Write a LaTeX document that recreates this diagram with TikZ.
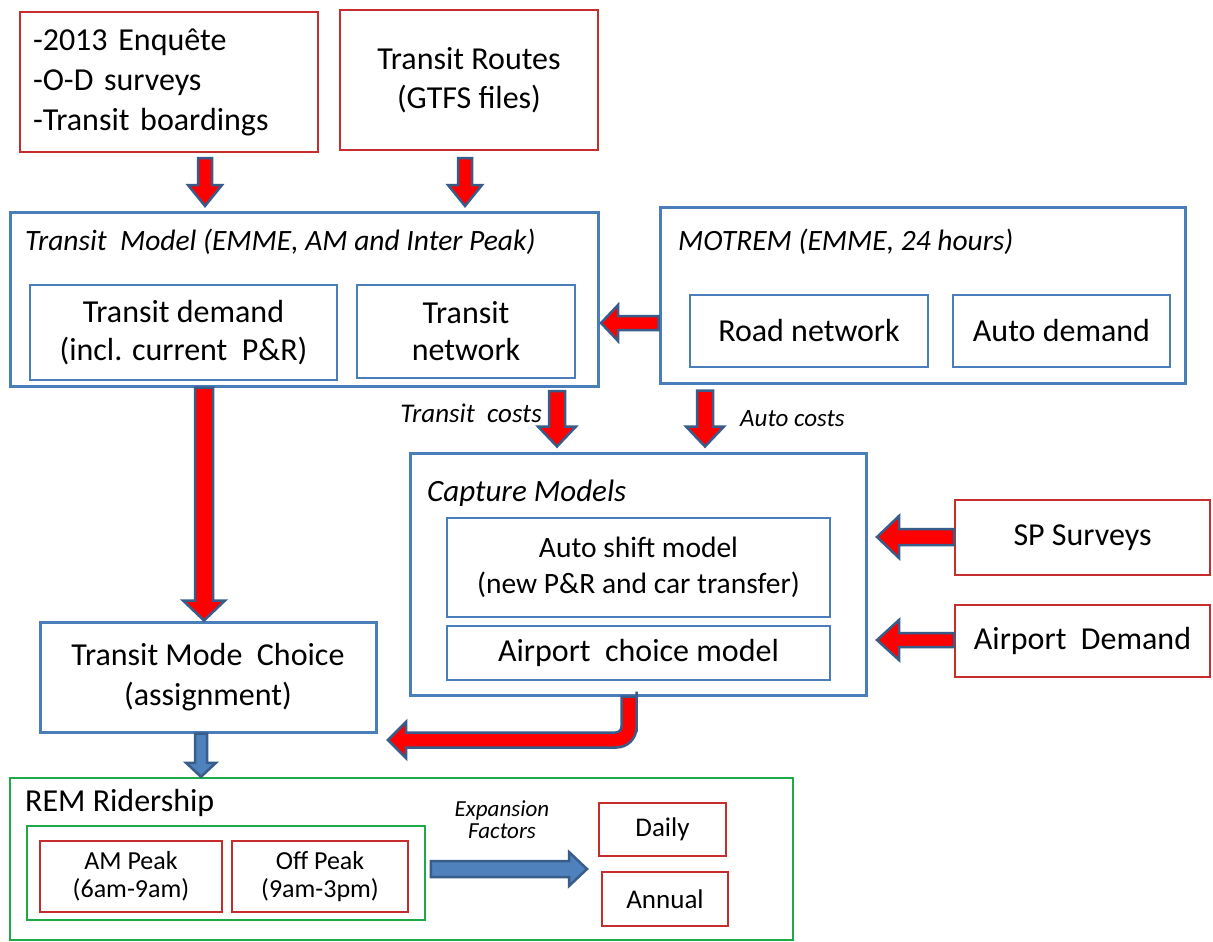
\documentclass[tikz,border=0pt]{standalone}
\usepackage{fontspec}
\setmainfont{Carlito}
\usetikzlibrary{calc}
\definecolor{redline}{RGB}{200,45,45}
\definecolor{blueline}{RGB}{74,126,187}
\definecolor{arrowline}{RGB}{56,93,138}
\definecolor{arrowred}{RGB}{255,0,0}
\definecolor{arrowblue}{RGB}{79,129,189}
\definecolor{greenline}{RGB}{30,170,70}
\newcommand{\fs}[2]{\fontsize{#1}{#2}\selectfont}
\begin{document}
\begin{tikzpicture}[x=1pt,y=-1pt,
  box/.style={inner sep=0pt, align=center},
  redbox/.style={box, draw=redline, line width=2pt},
  outerblue/.style={box, draw=blueline, line width=3pt},
  innerblue/.style={box, draw=blueline, line width=1.5pt},
  greenbox/.style={box, draw=greenline, line width=2.5pt},
  innergreen/.style={box, draw=greenline, line width=1.5pt},
  smallred/.style={box, draw=redline, line width=2pt},
  title/.style={inner sep=0pt, anchor=west, font=\itshape\fs{29.5}{35}},
  blockarrow/.style n args={3}{draw=arrowline, line width=2.5pt, line join=miter, fill=arrowred,
    to path={
      let \p1=(\tikztostart), \p2=(\tikztotarget),
          \n1={atan2(\y2-\y1,\x2-\x1)},
          \n2={veclen(\x2-\x1,\y2-\y1)-#3}
      in ($(\p1)+(\n1+90:#1)$) -- ($(\p1)+(\n1:\n2)+(\n1+90:#1)$)
         -- ($(\p1)+(\n1:\n2)+(\n1+90:#2)$) -- (\p2)
         -- ($(\p1)+(\n1:\n2)+(\n1-90:#2)$) -- ($(\p1)+(\n1:\n2)+(\n1-90:#1)$)
         -- ($(\p1)+(\n1-90:#1)$) -- cycle}},
  bluearrow/.style n args={3}{blockarrow={#1}{#2}{#3}, fill=arrowblue}
]
\useasboundingbox (0,0) rectangle (1213,942);

% top input boxes
\node[redbox, minimum width=298, minimum height=140, text width=272, align=left,
      font=\fs{32}{40}] (A) at (169,82)
  {-2013 Enquête\\-O-D surveys\\-Transit boardings};
\node[redbox, minimum width=258, minimum height=140, font=\fs{32}{39}] (B) at (469,80)
  {Transit Routes\\(GTFS files)};

% transit model
\node[outerblue, minimum width=588, minimum height=174] (TM) at (304,299) {};
\node[title] (TMt) at (25,242) {Transit\ \ Model (EMME, AM and Inter Peak)};
\node[innerblue, minimum width=307, minimum height=95, font=\fs{32}{38}] (TD) at (183.5,332.5)
  {Transit demand\\(incl. current\ \ P\&R)};
\node[innerblue, minimum width=218, minimum height=93, font=\fs{32}{37}] (TN) at (466,331.5)
  {Transit\\network};

% MOTREM
\node[outerblue, minimum width=525, minimum height=176] (MO) at (922.5,295) {};
\node[title] (MOt) at (678,242) {MOTREM (EMME, 24 hours)};
\node[innerblue, minimum width=238, minimum height=72, font=\fs{32}{38}] (RN) at (809,331) {Road network};
\node[innerblue, minimum width=217, minimum height=72, font=\fs{32}{38}] (AD) at (1061.5,331) {Auto demand};

% capture models
\node[outerblue, minimum width=456, minimum height=242] (CM) at (638,574) {};
\node[title, font=\itshape\fs{31}{36}] (CMt) at (427,493) {Capture Models};
\node[innerblue, minimum width=383, minimum height=99, font=\fs{29.5}{36}] (AS) at (638.5,567.5)
  {Auto shift model\\(new P\&R and car transfer)};
\node[innerblue, minimum width=383, minimum height=54, font=\fs{32}{38}] (AC) at (638.5,653)
  {Airport\ \ choice model};

% right inputs
\node[redbox, minimum width=255, minimum height=75, font=\fs{32}{38}] (SP) at (1082.5,537.5) {SP Surveys};
\node[redbox, minimum width=255, minimum height=72, font=\fs{32}{38}] (AP) at (1082.5,641) {Airport\ \ Demand};

% transit mode choice
\node[outerblue, minimum width=336, minimum height=110, font=\fs{32}{40}] (TMC) at (208,677)
  {Transit Mode\ \ Choice\\(assignment)};

% REM ridership
\node[greenbox, minimum width=783, minimum height=162] (REM) at (401.5,859) {};
\node[inner sep=0pt, anchor=west, font=\fs{32}{38}] (REMt) at (25,803) {REM Ridership};
\node[innergreen, minimum width=398, minimum height=94] (IG) at (226,873) {};
\node[smallred, minimum width=182, minimum height=71, font=\fs{26}{28}] (AM) at (131,876.5)
  {AM Peak\\(6am-9am)};
\node[smallred, minimum width=176, minimum height=71, font=\fs{26}{28}] (OP) at (320,876.5)
  {Off Peak\\(9am-3pm)};
\node[smallred, minimum width=127, minimum height=53, font=\fs{27}{32}] (DA) at (662.5,829) {Daily};
\node[smallred, minimum width=126, minimum height=54, font=\fs{27}{32}] (AN) at (665,899) {Annual};
\node[inner sep=0pt, align=center, font=\itshape\fs{23}{22}] (EF) at (502,820) {Expansion\\Factors};

% labels of costs
\node[inner sep=0pt, anchor=east, font=\itshape\fs{27}{30}] (TCl) at (542,413) {Transit\ \ costs};
\node[inner sep=0pt, anchor=west, font=\itshape\fs{25}{30}] (ACl) at (740,419) {Auto costs};

% arrow end coordinates
\coordinate (a1s) at ($(A.south)+(36,5)$);
\coordinate (a1e) at (a1s |- 0,206);
\coordinate (a2s) at ($(B.south)+(-4,7)$);
\coordinate (a2e) at (a2s |- 0,206);
\coordinate (a3s) at (MO.west |- 0,323);
\coordinate (a3e) at (601,323);
\coordinate (a4s) at (TM.south -| 204,0);
\coordinate (a4e) at (TMC.north -| 204,0);
\coordinate (a5s) at (557,391);
\coordinate (a5e) at (CM.north -| a5s);
\coordinate (a6s) at (MO.south -| 705,0);
\coordinate (a6e) at (CM.north -| a6s);
\coordinate (a7s) at (SP.west |- 0,537);
\coordinate (a7e) at (877,537);
\coordinate (a8s) at (AP.west |- 0,640);
\coordinate (a8e) at (877,640);
\coordinate (a9s) at (TMC.south -| 201,0);
\coordinate (a9e) at (REM.north -| 201,0);
\coordinate (a10s) at (IG.east |- 0,869);
\coordinate (a10e) at (587,869);

\path[blockarrow={7pt}{17pt}{21pt}] ($(a1s)$) to ($(a1e)$);
\path[blockarrow={7pt}{17pt}{21pt}] (a2s) to (a2e);
\path[blockarrow={7pt}{18pt}{17pt}] (a3s) to (a3e);
\path[blockarrow={9pt}{21pt}{20pt}] (a4s) to (a4e);
\path[blockarrow={8pt}{19pt}{20pt}] (a5s) to ($(a5e)+(0,-5)$);
\path[blockarrow={8pt}{19pt}{20pt}] ($(a6s)+(0,6)$) to ($(a6e)+(0,-5)$);
\path[blockarrow={8pt}{21pt}{22pt}] (a7s) to (a7e);
\path[blockarrow={7pt}{20pt}{22pt}] (a8s) to (a8e);
\path[bluearrow={6pt}{15pt}{14pt}] (a9s) to (a9e);
\path[bluearrow={8pt}{17pt}{18pt}] ($(a10s)+(5,0)$) to (a10e);

% bent arrow from capture models to transit mode choice
\coordinate (bs) at (CM.south -| 629,0);
\coordinate (bt) at (388,740);
\coordinate (bk) at (bs |- bt);
\draw[draw=arrowline, line width=2.5pt, fill=arrowred, line join=miter]
  ($(bs)+(-7.5,0)$) -- ($(bs)+(-7.5,15)$) [rounded corners=6pt]
  -- ($(bk)+(-7.5,-7.5)$) -- ($(bk)+(-60,-7.5)$) [sharp corners]
  -- ($(bt)+(18,-7.5)$) -- ($(bt)+(18,-18)$) -- (bt) -- ($(bt)+(18,18)$)
  -- ($(bt)+(18,7.5)$) -- ($(bk)+(-60,7.5)$) [rounded corners=20pt]
  -- ($(bk)+(7.5,7.5)$) -- ($(bs)+(7.5,15)$) [sharp corners]
  -- ($(bs)+(7.5,0)$) -- cycle;
\end{tikzpicture}
\end{document}
